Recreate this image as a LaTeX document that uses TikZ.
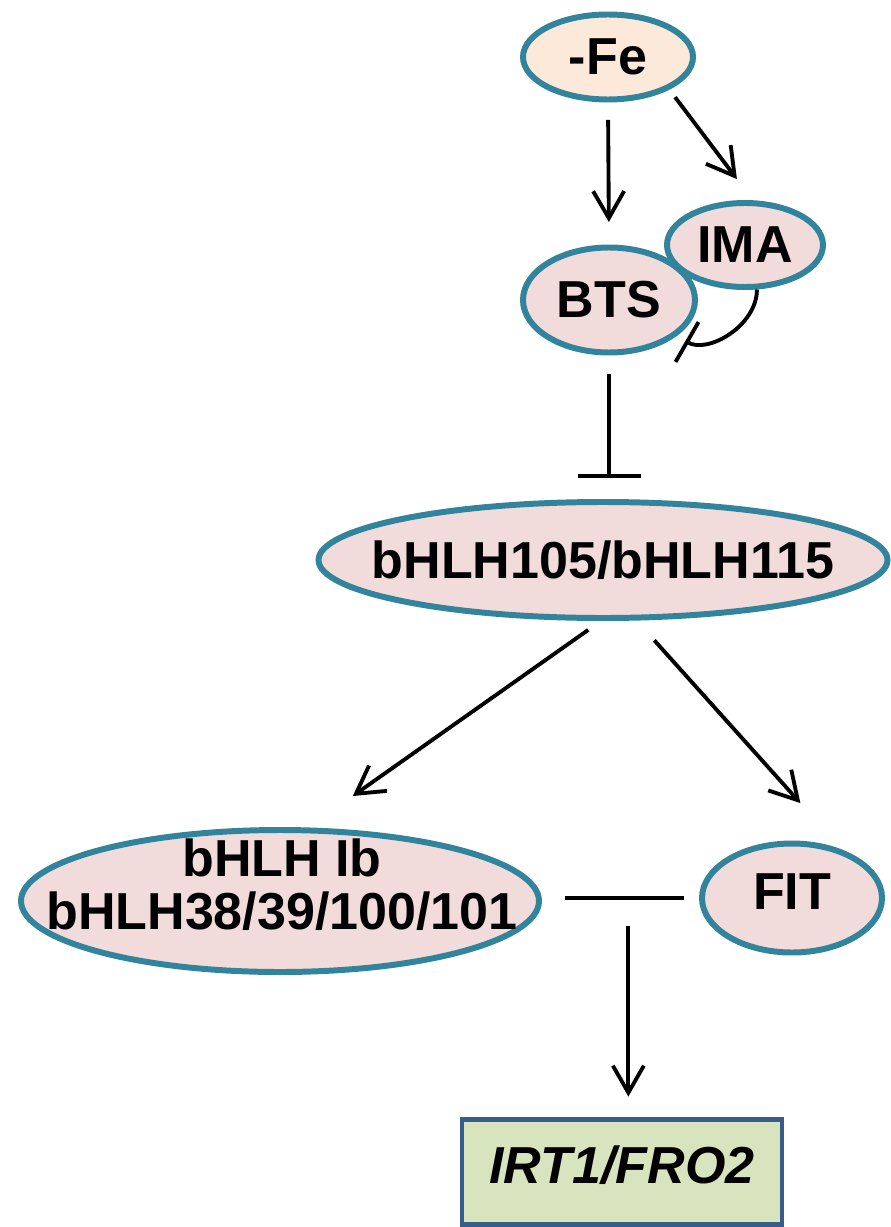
\documentclass[tikz,border=0pt]{standalone}
\usepackage{fontspec}
\setmainfont{Liberation Sans}
\usepackage{tikz}
\usetikzlibrary{arrows.meta,calc,shapes.geometric}
\definecolor{ringTeal}{HTML}{31849B}
\definecolor{fillPink}{HTML}{F2DCDB}
\definecolor{fillPeach}{HTML}{FDE9D9}
\definecolor{boxGreen}{HTML}{D7E4BD}
\definecolor{boxBlue}{HTML}{385D8A}
\newcommand{\wide}[1]{\makebox[0pt]{#1}}

\begin{document}
\begin{tikzpicture}[every node/.style={align=center,font=\fontsize{29.6}{30.2}\selectfont\bfseries,
                                       text=black},
    blob/.style={ellipse,draw=ringTeal,line width=3.4pt,fill=fillPink,inner sep=0pt},
    act/.style={draw=black,line width=2.2pt,-{Straight Barb[length=0.54cm,width=0.62cm]}},
    inh/.style={draw=black,line width=2.2pt}]
  \useasboundingbox (0,0) rectangle (17.82,-24.54);
  \node[blob,fill=fillPeach,minimum width=3.4cm,minimum height=1.7cm]
        (fe) at (12.16,-1.14) {-Fe};
  \node[blob,minimum width=3.12cm,minimum height=1.68cm]
        (ima) at (14.90,-4.90) {IMA};
  \node[blob,minimum width=3.44cm,minimum height=2.10cm]
        (bts) at (12.18,-6.00) {BTS};
  \node[blob,minimum width=11.38cm,minimum height=2.32cm]
        (bhlhA) at (12.06,-11.20) {\wide{bHLH105/bHLH115}};
  \node[blob,minimum width=10.36cm,minimum height=2.84cm]
        (ibEll) at (5.60,-18.02) {};
  \node[inner sep=0pt] (ibTxt) at ($(ibEll)+(0.04,0.33)$) {bHLH Ib\\bHLH38/39/100/101};
  \node[blob,minimum width=3.6cm,minimum height=2.18cm,text depth=0.25cm]
        (fit) at (15.84,-17.96) {FIT};
  \node[draw=boxBlue,line width=2.8pt,fill=boxGreen,inner sep=0pt,
        minimum width=6.4cm,minimum height=2.1cm,text depth=0.3cm]
        (irt) at (12.44,-23.44) {\textit{IRT1/FRO2}};
  \coordinate (cplx) at ($(ibEll.east |- fit.west)!0.55!(fit.west)$);
  \draw[act,shorten <=0.35cm,shorten >=0.45cm] (fe.south) -- (bts.north);
  \draw[act,shorten <=0.19cm,shorten >=0.53cm] (fe.-28) -- (ima.80);
  \draw[inh,-{Bar[width=0.92cm]},shorten >=0.2cm] (ima.-75) to[out=-90,in=-30] (bts.-28);
  \draw[inh,-{Bar[width=1.26cm]},shorten <=0.37cm,shorten >=0.43cm]
        (bts.south) -- (bts.south |- bhlhA.north);
  \draw[act,shorten <=0.31cm,shorten >=1.09cm] (bhlhA.-92) -- (ibEll.69);
  \draw[act,shorten <=0.53cm,shorten >=1.25cm] (bhlhA.-61) -- (fit.44);
  \draw[inh,shorten <=0.47cm,shorten >=0.31cm] (ibEll.east |- fit.west) -- (fit.west);
  \draw[act,shorten <=0.56cm,shorten >=0.41cm] (cplx) -- (cplx |- irt.north);
\end{tikzpicture}
\end{document}
